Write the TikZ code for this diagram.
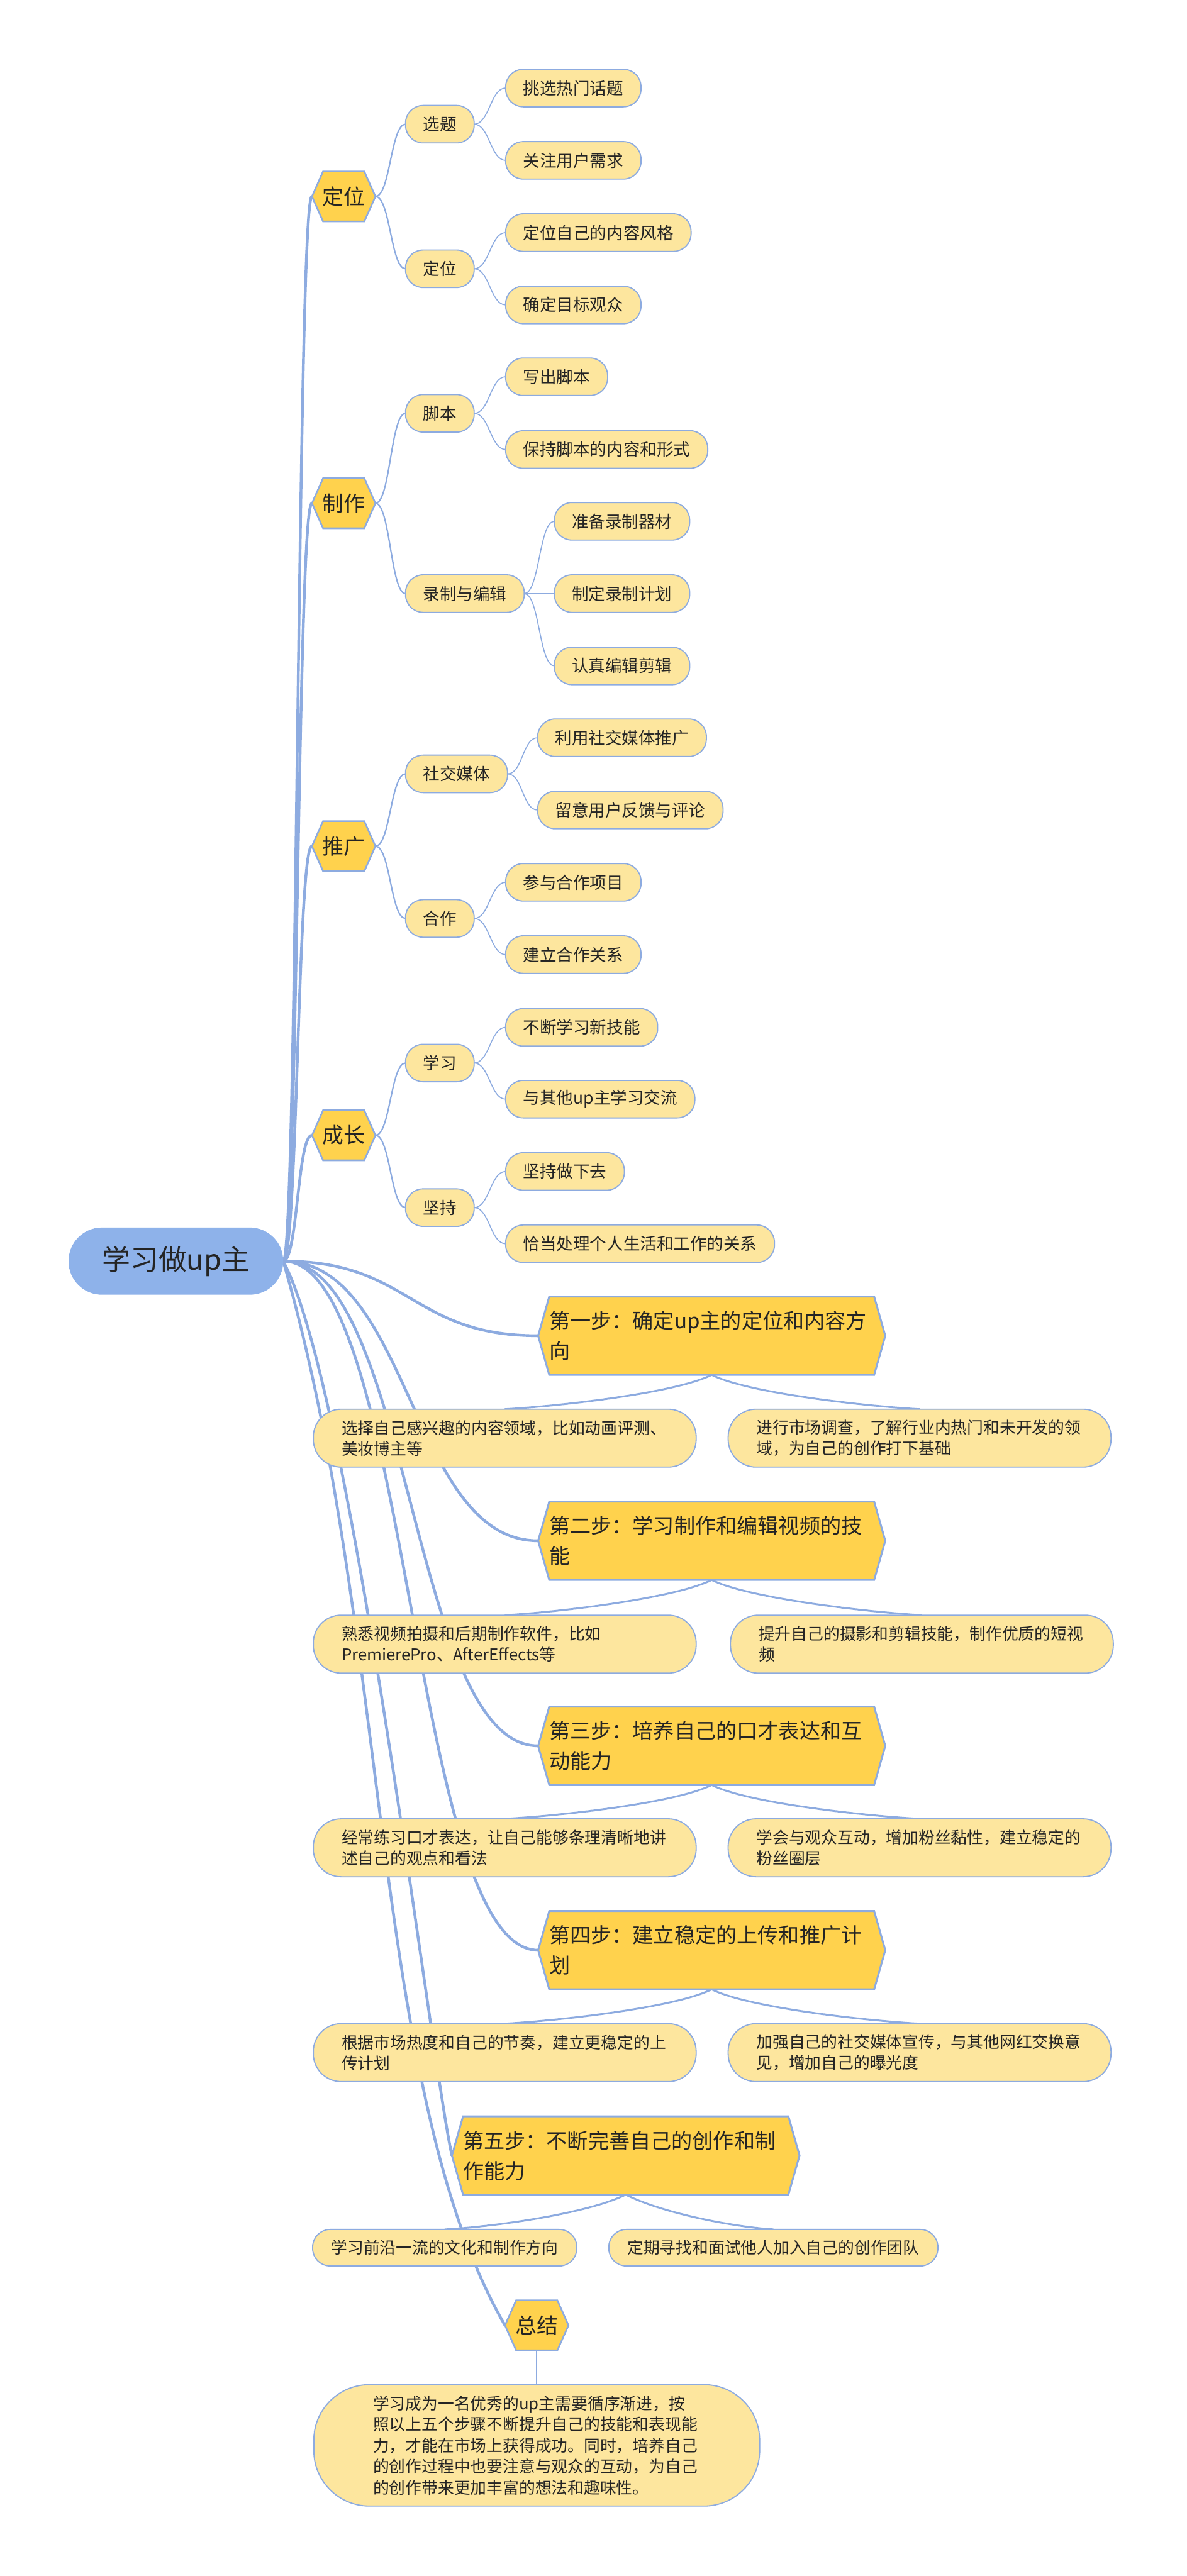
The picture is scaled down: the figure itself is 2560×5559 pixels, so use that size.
\documentclass[tikz,border=0pt]{standalone}
\usepackage{fontspec}
\setmainfont{Noto Sans CJK SC}
\usetikzlibrary{calc}
\definecolor{edgec}{RGB}{141,171,224}
\definecolor{rootc}{RGB}{142,178,234}
\definecolor{hexc}{RGB}{255,210,77}
\definecolor{leafc}{RGB}{253,230,158}
\definecolor{txtc}{RGB}{36,36,36}
\pgfdeclarelayer{bg}
\pgfdeclarelayer{edges}
\pgfdeclarelayer{shapes}
\pgfsetlayers{bg,edges,shapes,main}
\newcommand\mkhex[3][hexfill]{\path[#1] ($(#2.north west)+(#3,0)$) -- ($(#2.north east)+(-#3,0)$) -- (#2.east) -- ($(#2.south east)+(-#3,0)$) -- ($(#2.south west)+(#3,0)$) -- (#2.west) -- cycle;}
\tikzset{
 rootnode/.style={fill=rootc, rounded corners=72pt, minimum width=463pt, minimum height=145pt, inner sep=0pt, font=\fontsize{61pt}{70pt}\selectfont},
 hexnode/.style={minimum width=137pt, minimum height=108pt, inner sep=0pt, font=\fontsize{46pt}{52pt}\selectfont},
 hexfill/.style={fill=hexc, draw=edgec, line width=3.5pt},
 stepfill/.style={fill=hexc, draw=edgec, line width=4pt},
 lvtwo/.style={fill=leafc, draw=edgec, line width=2.5pt, rounded corners=38pt, minimum height=81pt, inner xsep=38pt, inner ysep=0pt, font=\fontsize{36pt}{42pt}\selectfont, anchor=west},
 stepnode/.style={minimum width=749pt, minimum height=169pt, inner xsep=24pt, inner ysep=0pt, text width=701pt, align=left, font=\fontsize{45pt}{65pt}\selectfont},
 leafnode/.style={fill=leafc, draw=edgec, line width=2.5pt, rounded corners=60pt, minimum height=125pt, inner xsep=61pt, inner ysep=0pt, text width=704pt, align=left, font=\fontsize{35pt}{45pt}\selectfont},
 leafone/.style={fill=leafc, draw=edgec, line width=2.5pt, rounded corners=38pt, minimum height=79pt, inner xsep=40pt, inner ysep=0pt, font=\fontsize{35pt}{42pt}\selectfont},
 sumnode/.style={fill=leafc, draw=edgec, line width=2.5pt, rounded corners=120pt, minimum height=262pt, inner xsep=128pt, inner ysep=0pt, text width=706pt, align=left, font=\fontsize{35pt}{45.5pt}\selectfont},
 e0/.style={draw=edgec, line width=6pt},
 e1/.style={draw=edgec, line width=3pt},
 e2/.style={draw=edgec, line width=2.2pt},
 es/.style={draw=edgec, line width=4pt},
}
\begin{document}
\begin{tikzpicture}[x=1pt,y=-1pt, every node/.style={outer sep=0pt,text=txtc}]
\begin{pgfonlayer}{bg}
\fill[white] (0,0) rectangle (2560,5559);
\end{pgfonlayer}
\path[use as bounding box] (0,0) rectangle (2560,5559);

% root
\node[rootnode] (r) at (379.5,2721.5) {学习做up主};

% level 1
\node[hexnode] (d) at (741.5,424) {定位};
\node[hexnode] (z) at (741.5,1086) {制作};
\node[hexnode] (t) at (741.5,1826) {推广};
\node[hexnode] (g) at (741.5,2450) {成长};
\node[hexnode] (zj) at (1158,5018) {总结};

% level 2
\node[lvtwo] (d1) at (875,268) {选题};
\node[lvtwo] (d2) at (875,580) {定位};
\node[lvtwo] (z1) at (875,892) {脚本};
\node[lvtwo] (z2) at (875,1281) {录制与编辑};
\node[lvtwo] (t1) at (875,1670) {社交媒体};
\node[lvtwo] (t2) at (875,1982) {合作};
\node[lvtwo] (g1) at (875,2294) {学习};
\node[lvtwo] (g2) at (875,2606) {坚持};

% level 3
\node[lvtwo] (d1a) at (1091,190) {挑选热门话题};
\node[lvtwo] (d1b) at (1091,346) {关注用户需求};
\node[lvtwo] (d2a) at (1091,502) {定位自己的内容风格};
\node[lvtwo] (d2b) at (1091,658) {确定目标观众};
\node[lvtwo] (z1a) at (1091,813) {写出脚本};
\node[lvtwo] (z1b) at (1091,970) {保持脚本的内容和形式};
\node[lvtwo] (z2a) at (1196,1125) {准备录制器材};
\node[lvtwo] (z2b) at (1196,1281) {制定录制计划};
\node[lvtwo] (z2c) at (1196,1437) {认真编辑剪辑};
\node[lvtwo] (t1a) at (1160,1592) {利用社交媒体推广};
\node[lvtwo] (t1b) at (1160,1748) {留意用户反馈与评论};
\node[lvtwo] (t2a) at (1091,1904) {参与合作项目};
\node[lvtwo] (t2b) at (1091,2060) {建立合作关系};
\node[lvtwo] (g1a) at (1091,2217) {不断学习新技能};
\node[lvtwo] (g1b) at (1091,2372) {与其他up主学习交流};
\node[lvtwo] (g2a) at (1091,2528) {坚持做下去};
\node[lvtwo] (g2b) at (1091,2684) {恰当处理个人生活和工作的关系};

% steps
\node[stepnode] (s1) at (1535.5,2882.5) {第一步：确定up主的定位和内容方\\向};
\node[stepnode] (s2) at (1535.5,3325) {第二步：学习制作和编辑视频的技\\能};
\node[stepnode] (s3) at (1535.5,3767.5) {第三步：培养自己的口才表达和互\\动能力};
\node[stepnode] (s4) at (1535.5,4208.5) {第四步：建立稳定的上传和推广计\\划};
\node[stepnode, minimum width=750pt, text width=702pt] (s5) at (1350,4651.5) {第五步：不断完善自己的创作和制\\作能力};

% step children
\node[leafnode] (c1a) at (1089,3103.5) {选择自己感兴趣的内容领域，比如动画评测、\\美妆博主等};
\node[leafnode] (c1b) at (1984,3103.5) {进行市场调查，了解行业内热门和未开发的领\\域，为自己的创作打下基础};
\node[leafnode] (c2a) at (1089,3548) {熟悉视频拍摄和后期制作软件，比如\\PremierePro、AfterEffects等};
\node[leafnode] (c2b) at (1989,3548) {提升自己的摄影和剪辑技能，制作优质的短视\\频};
\node[leafnode] (c3a) at (1089,3987.5) {经常练习口才表达，让自己能够条理清晰地讲\\述自己的观点和看法};
\node[leafnode] (c3b) at (1984,3987.5) {学会与观众互动，增加粉丝黏性，建立稳定的\\粉丝圈层};
\node[leafnode] (c4a) at (1089,4429.5) {根据市场热度和自己的节奏，建立更稳定的上\\传计划};
\node[leafnode] (c4b) at (1984,4429.5) {加强自己的社交媒体宣传，与其他网红交换意\\见，增加自己的曝光度};
\node[leafone] (c5a) at (959.5,4850.5) {学习前沿一流的文化和制作方向};
\node[leafone] (c5b) at (1668.5,4850.5) {定期寻找和面试他人加入自己的创作团队};
\node[sumnode] (sm) at (1158,5277) {学习成为一名优秀的up主需要循序渐进，按\\照以上五个步骤不断提升自己的技能和表现能\\力，才能在市场上获得成功。同时，培养自己\\的创作过程中也要注意与观众的互动，为自己\\的创作带来更加丰富的想法和趣味性。};

% hexagon shapes
\begin{pgfonlayer}{shapes}
\mkhex{d}{24}
\mkhex{z}{24}
\mkhex{t}{24}
\mkhex{g}{24}
\mkhex{zj}{24}
\mkhex[stepfill]{s1}{24}
\mkhex[stepfill]{s2}{24}
\mkhex[stepfill]{s3}{24}
\mkhex[stepfill]{s4}{24}
\mkhex[stepfill]{s5}{24}
\end{pgfonlayer}

% connectors
\begin{pgfonlayer}{edges}
\draw[e0] (r.east) .. controls +(31,0) and +(-31,0) .. (d.west);
\draw[e0] (r.east) .. controls +(31,0) and +(-31,0) .. (z.west);
\draw[e0] (r.east) .. controls +(31,0) and +(-31,0) .. (t.west);
\draw[e0] (r.east) .. controls +(31,0) and +(-31,0) .. (g.west);
\draw[e0] (r.east) .. controls +(275,0) and +(-275,0) .. (s1.west);
\draw[e0] (r.east) .. controls +(275,0) and +(-275,0) .. (s2.west);
\draw[e0] (r.east) .. controls +(275,0) and +(-275,0) .. (s3.west);
\draw[e0] (r.east) .. controls +(275,0) and +(-275,0) .. (s4.west);
\draw[e0] (r.east) .. controls +(149,280) and +(-45,-201) .. (s5.west);
\draw[e0] (r.east) .. controls +(232,800) and +(-290,-501) .. (zj.west);

\draw[e1] (d.east) .. controls +(32,0) and +(-32,0) .. (d1.west);
\draw[e1] (d.east) .. controls +(32,0) and +(-32,0) .. (d2.west);
\draw[e1] (z.east) .. controls +(32,0) and +(-32,0) .. (z1.west);
\draw[e1] (z.east) .. controls +(32,0) and +(-32,0) .. (z2.west);
\draw[e1] (t.east) .. controls +(32,0) and +(-32,0) .. (t1.west);
\draw[e1] (t.east) .. controls +(32,0) and +(-32,0) .. (t2.west);
\draw[e1] (g.east) .. controls +(32,0) and +(-32,0) .. (g1.west);
\draw[e1] (g.east) .. controls +(32,0) and +(-32,0) .. (g2.west);

\draw[e2] (d1.east) .. controls +(33,0) and +(-33,0) .. (d1a.west);
\draw[e2] (d1.east) .. controls +(33,0) and +(-33,0) .. (d1b.west);
\draw[e2] (d2.east) .. controls +(33,0) and +(-33,0) .. (d2a.west);
\draw[e2] (d2.east) .. controls +(33,0) and +(-33,0) .. (d2b.west);
\draw[e2] (z1.east) .. controls +(33,0) and +(-33,0) .. (z1a.west);
\draw[e2] (z1.east) .. controls +(33,0) and +(-33,0) .. (z1b.west);
\draw[e2] (z2.east) .. controls +(33,0) and +(-33,0) .. (z2a.west);
\draw[e2] (z2.east) -- (z2b.west);
\draw[e2] (z2.east) .. controls +(33,0) and +(-33,0) .. (z2c.west);
\draw[e2] (t1.east) .. controls +(33,0) and +(-33,0) .. (t1a.west);
\draw[e2] (t1.east) .. controls +(33,0) and +(-33,0) .. (t1b.west);
\draw[e2] (t2.east) .. controls +(33,0) and +(-33,0) .. (t2a.west);
\draw[e2] (t2.east) .. controls +(33,0) and +(-33,0) .. (t2b.west);
\draw[e2] (g1.east) .. controls +(33,0) and +(-33,0) .. (g1a.west);
\draw[e2] (g1.east) .. controls +(33,0) and +(-33,0) .. (g1b.west);
\draw[e2] (g2.east) .. controls +(33,0) and +(-33,0) .. (g2a.west);
\draw[e2] (g2.east) .. controls +(33,0) and +(-33,0) .. (g2b.west);

\draw[es] (s1.south) .. controls +(-80,40) and +(110,-6) .. (c1a.north);
\draw[es] (s1.south) .. controls +(80,40) and +(-110,-6) .. (c1b.north);
\draw[es] (s2.south) .. controls +(-80,40) and +(110,-6) .. (c2a.north);
\draw[es] (s2.south) .. controls +(80,40) and +(-110,-6) .. (c2b.north);
\draw[es] (s3.south) .. controls +(-80,40) and +(110,-6) .. (c3a.north);
\draw[es] (s3.south) .. controls +(80,40) and +(-110,-6) .. (c3b.north);
\draw[es] (s4.south) .. controls +(-80,40) and +(110,-6) .. (c4a.north);
\draw[es] (s4.south) .. controls +(80,40) and +(-110,-6) .. (c4b.north);
\draw[es] (s5.south) .. controls +(-80,40) and +(110,-6) .. (c5a.north);
\draw[es] (s5.south) .. controls +(80,40) and +(-90,-6) .. (c5b.north);

\draw[e2] (zj.south) -- (sm.north);
\end{pgfonlayer}
\end{tikzpicture}
\end{document}
